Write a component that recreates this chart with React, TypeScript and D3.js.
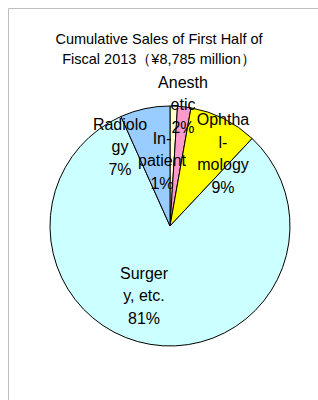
import React from "react";
import * as d3 from "d3";

// slices, clockwise from 12 o'clock
const categories = ["Inpatient", "Anesthetic", "Ophthalmology", "Surgery, etc.", "Radiology"];
const shares = [1.0, 1.8, 9.2, 81.3, 6.7];
const labelLines = [
  ["In-", "patient", "1%"],
  ["Anesth", "etic", "2%"],
  ["Ophtha", "l-", "mology", "9%"],
  ["Surger", "y, etc.", "81%"],
  ["Radiolo", "gy", "7%"],
];
const titleLines = ["Cumulative Sales of First Half of", "Fiscal 2013（¥8,785 million）"];

const colors = ["#FFFFCC", "#FF99CC", "#FFFF00", "#CCFFFF", "#99CCFF"];
// label block centre, relative to the pie centre (Excel puts these by hand)
const labelOffset: [number, number][] = [
  [-8, -66],
  [13, -122],
  [53, -73],
  [-26, 69],
  [-50, -80],
];

const W = 318;
const H = 400;
const cx = 170;
const cy = 226;
const R = 120;
const lineH = 22.5;
const font = "'Liberation Sans', Arial, sans-serif";

export default function App() {
  const pie = d3.pie<number>().sort(null).value((d) => d);
  const arcs = pie(shares);
  const arc = d3.arc<d3.PieArcDatum<number>>().innerRadius(0).outerRadius(R);

  return (
    <svg
      width={W}
      height={H}
      style={{ position: "absolute", left: 0, top: 0, display: "block" }}
    >
      <rect x={0} y={0} width={W} height={H} fill="#fff" />
      <path d={`M8.5,${H} V8.5 H${W}`} fill="none" stroke="#bdbdbd" strokeWidth={1} />

      <g fontFamily={font} fontSize={14.5} fill="#000" textAnchor="middle">
        {titleLines.map((t, i) => (
          <text key={i} x={159} y={44 + i * 20}>
            {t}
          </text>
        ))}
      </g>

      <g transform={`translate(${cx},${cy})`}>
        {arcs.map((a, i) => (
          <path
            key={categories[i]}
            d={arc(a) || ""}
            fill={colors[i]}
            stroke="#000"
            strokeWidth={1}
            strokeLinejoin="round"
          />
        ))}
        {arcs.map((a, i) => {
          const lines = labelLines[i];
          const [dx, dy] = labelOffset[i];
          const top = dy - ((lines.length - 1) * lineH) / 2;
          return (
            <text
              key={"l" + i}
              fontFamily={font}
              fontSize={16}
              textAnchor="middle"
              dominantBaseline="central"
              fill="#000"
            >
              {lines.map((ln, j) => (
                <tspan key={j} x={dx} y={top + j * lineH}>
                  {ln}
                </tspan>
              ))}
            </text>
          );
        })}
      </g>
    </svg>
  );
}
